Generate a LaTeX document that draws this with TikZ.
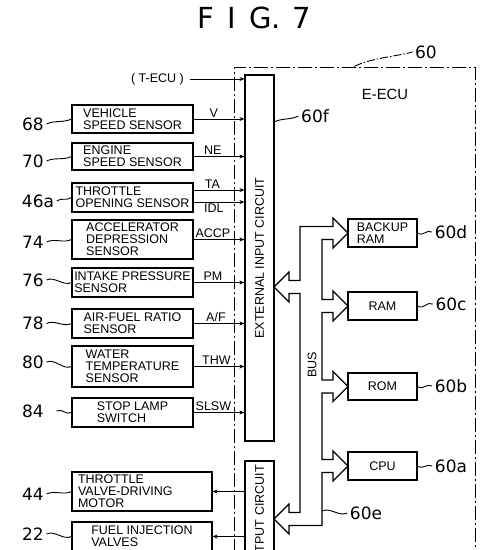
\documentclass[tikz,border=0pt]{standalone}
\usepackage{fontspec}
\setmainfont{Liberation Sans}
\newfontfamily\numfont{DejaVu Sans}
\usetikzlibrary{arrows.meta,calc}
\begin{document}
\begin{tikzpicture}[x=1pt,y=-1pt,
  every node/.style={font=\fontsize{12.5}{12}\selectfont, inner sep=0pt},
  box/.style={draw, line width=1.1pt, align=left},
  sbox/.style={box, minimum width=121pt},
  obox/.style={box, minimum width=140pt},
  mbox/.style={box, minimum width=69pt, minimum height=28pt, align=left},
  circ/.style={draw, line width=1.1pt, minimum width=29pt},
  refnum/.style={font=\numfont\fontsize{17}{17}\selectfont, inner xsep=2.5pt},
  lead/.style={line width=0.9pt},
  sig/.style={line width=1pt, -{Stealth[length=5pt,width=4pt]}},
  siglab/.style={font=\fontsize{12.5}{12}\selectfont, inner sep=1.5pt},
  frame/.style={draw, line width=1pt, dash pattern=on 14pt off 3pt on 2pt off 3pt},
]
\useasboundingbox (0,0) rectangle (500,550);
\clip (0,0) rectangle (500,550);

% title
\node[font=\numfont\fontsize{29}{29}\selectfont] (title) at (254.5,17.5) {F\hspace{0.45em}I\hspace{0.45em}G.\hspace{0.4em}7};

% E-ECU frame
\node[frame, minimum width=241pt, minimum height=520pt] (ecu) at (354.5,327) {};
\coordinate (e60) at ($(ecu.north west)+(121,0)$);
\node[refnum] (n60) at (426,52) {60};
\draw[lead, dash pattern=on 8pt off 2pt on 1.5pt off 2pt] (e60) .. controls +(14,-8) and +(-14,4) .. (n60.west);
\node[font=\fontsize{14.8}{15}\selectfont] (eecu) at (385,94) {E-ECU};

% input / output circuits
\node[circ, minimum height=366pt] (eic) at (259.5,258) {};
\node[rotate=90] (eictext) at (eic.center) {EXTERNAL INPUT CIRCUIT};
\node[circ, minimum height=114pt] (oc) at (259.5,518) {};
\node[rotate=90] (octext) at (oc.center) {OUTPUT CIRCUIT};

\coordinate (f60) at (274,122);
\node[refnum] (n60f) at (315,116) {60f};
\draw[lead] (f60) .. controls +(8,-4) and +(-8,4) .. (n60f.west);

% T-ECU
\node (tecu) at (157.5,79) {( T-ECU )};
\draw[sig] ([xshift=6pt]tecu.east) -- (tecu -| eic.west);

% sensors
\node[sbox, minimum height=28pt] (s68) at (132.5,119) {VEHICLE\\SPEED SENSOR};
\node[sbox, minimum height=27pt] (s70) at (132.5,156.5) {ENGINE\\SPEED SENSOR};
\node[sbox, minimum height=29pt] (s46) at (132.5,197.5) {THROTTLE\\OPENING SENSOR};
\node[sbox, minimum height=39pt] (s74) at (132.5,239.5) {ACCELERATOR\\DEPRESSION\\SENSOR};
\node[sbox, minimum height=29pt] (s76) at (132.5,282.5) {INTAKE PRESSURE\\SENSOR};
\node[sbox, minimum height=29pt] (s78) at (132.5,323.5) {AIR-FUEL RATIO\\SENSOR};
\node[sbox, minimum height=41pt] (s80) at (132.5,366.5) {WATER\\TEMPERATURE\\SENSOR};
\node[sbox, minimum height=29pt] (s84) at (132.5,412.5) {STOP LAMP\\SWITCH};
\node[obox, minimum height=39pt, text width=128pt] (m44) at (142,491.5) {THROTTLE\\VALVE-DRIVING\\MOTOR};
\node[obox, minimum height=29pt] (f22) at (142,536.5) {FUEL INJECTION\\VALVES};

% reference numbers
\node[refnum] (n68) at (33,124) {68};
\node[refnum] (n70) at (33,161) {70};
\node[refnum] (n46) at (38,201) {46a};
\node[refnum] (n74) at (33,242) {74};
\node[refnum] (n76) at (33,280) {76};
\node[refnum] (n78) at (33,323.5) {78};
\node[refnum] (n80) at (33,362) {80};
\node[refnum] (n84) at (33,411) {84};
\node[refnum] (n44) at (33,494) {44};
\node[refnum] (n22) at (33,534) {22};
\foreach \a/\b in {n68/s68,n70/s70,n46/s46,n74/s74,n76/s76,n78/s78,n80/s80,n44/m44,n22/f22}
  \draw[lead] (\a.east) .. controls +(8,-4) and +(-8,4) .. (\b.west);
\draw[lead] ([xshift=10pt]n84.east) .. controls +(6,-3) and +(-6,3) .. (s84.west);

% signals
\draw[sig] (s68.east) -- (s68.east -| eic.west) node[siglab, pos=.4, above] {V};
\draw[sig] (s70.east) -- (s70.east -| eic.west) node[siglab, pos=.38, above] {NE};
\coordinate (ta) at ($(s46.east)+(0,-7.5)$);
\coordinate (idl) at ($(s46.east)+(0,4.5)$);
\draw[sig] (ta) -- (ta -| eic.west) node[siglab, pos=.37, above] {TA};
\draw[sig] (idl) -- (idl -| eic.west) node[siglab, pos=.4, below] {IDL};
\draw[sig] (s74.east) -- (s74.east -| eic.west) node[siglab, pos=.38, above] {ACCP};
\draw[sig] (s76.east) -- (s76.east -| eic.west) node[siglab, pos=.38, above] {PM};
\draw[sig] (s78.east) -- (s78.east -| eic.west) node[siglab, pos=.44, above] {A/F};
\draw[sig] (s80.east) -- (s80.east -| eic.west) node[siglab, pos=.45, above] {THW};
\draw[sig] (s84.east) -- (s84.east -| eic.west) node[siglab, pos=.39, above] {SLSW};
\draw[sig] (m44 -| oc.west) -- (m44.east);
\draw[sig] (f22 -| oc.west) -- (f22.east);

% memory blocks
\node[mbox] (bram) at (382.5,233) {BACKUP\\RAM};
\node[mbox] (ram) at (382.5,306) {RAM};
\node[mbox, minimum height=27pt] (rom) at (382.5,386.5) {ROM};
\node[mbox] (cpu) at (382.5,466) {CPU};
\node[refnum] (n60d) at (451,232) {60d};
\node[refnum] (n60c) at (451,304) {60c};
\node[refnum] (n60b) at (451,386) {60b};
\node[refnum] (n60a) at (451,466) {60a};
\foreach \a/\b in {bram/n60d,ram/n60c,rom/n60b,cpu/n60a}
  \draw[lead] (\a.east) .. controls +(6,4) and +(-6,-3) .. (\b.west);

% bus
\draw[line width=1.1pt, line join=miter]
 (333,226.5) -- (300,226.5) -- (300,280.5) -- (289,280.5) -- (289,272) -- (274,287) -- (289,302) -- (289,293.5) -- (300,293.5)
 -- (300,512.5) -- (289,512.5) -- (289,504) -- (274,519) -- (289,534) -- (289,525.5) -- (322,525.5)
 -- (322,472.5) -- (333,472.5) -- (333,481) -- (348,466) -- (333,451) -- (333,459.5) -- (322,459.5)
 -- (322,393) -- (333,393) -- (333,401.5) -- (348,386.5) -- (333,371.5) -- (333,380) -- (322,380)
 -- (322,312.5) -- (333,312.5) -- (333,321) -- (348,306) -- (333,291) -- (333,299.5) -- (322,299.5)
 -- (322,239.5) -- (333,239.5) -- (333,248) -- (348,233) -- (333,218) -- cycle;
\node[rotate=90] (buslab) at (312,365) {BUS};
\coordinate (bus60e) at (322,511);
\node[refnum] (n60e) at (366,513) {60e};
\draw[lead] (bus60e) .. controls +(8,-4) and +(-8,4) .. (n60e.west);
\end{tikzpicture}
\end{document}
